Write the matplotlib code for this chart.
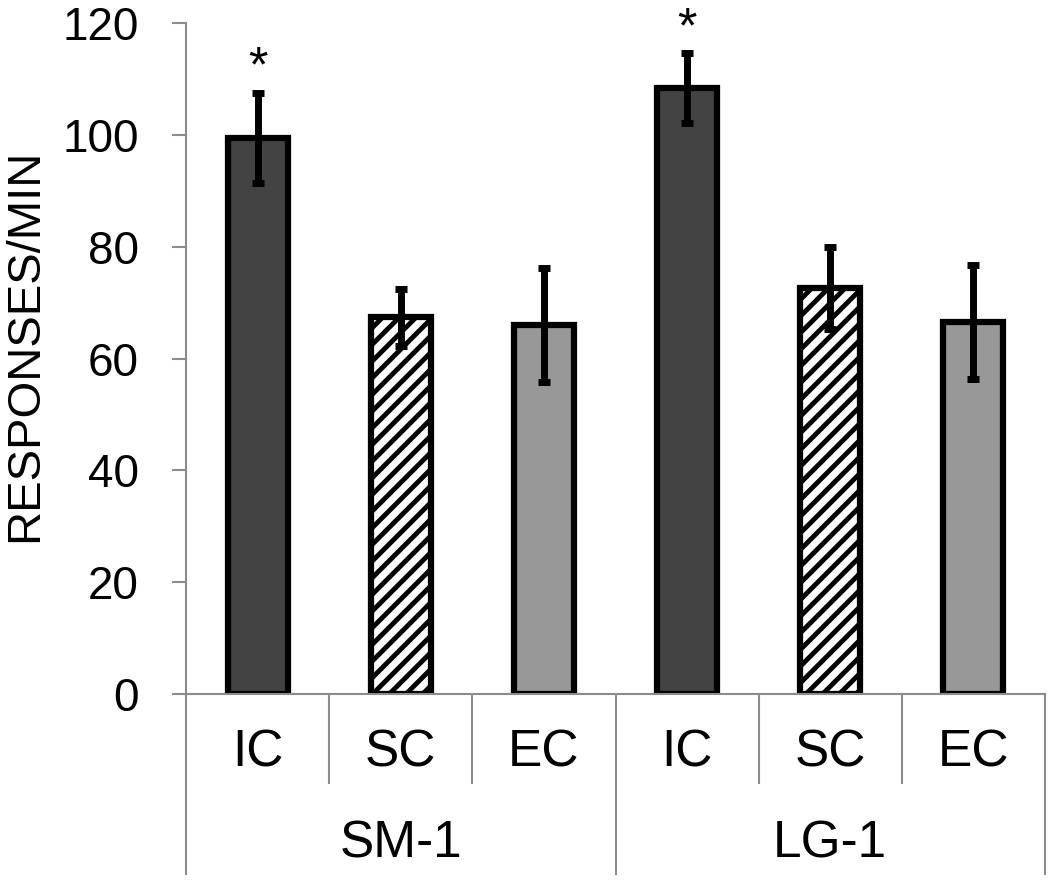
import numpy as np
import matplotlib
matplotlib.use("Agg")
import matplotlib.pyplot as plt

plt.rcParams['font.family'] = ['Liberation Sans', 'DejaVu Sans']
plt.rcParams['hatch.linewidth'] = 3.5
plt.rcParams['hatch.color'] = 'black'

groups = ["SM-1", "LG-1"]
conditions = ["IC", "SC", "EC"]
means = [99.4, 67.4, 66.0, 108.4, 72.6, 66.5]
errors = [8.1, 5.1, 10.2, 6.2, 7.3, 10.2]
significant = [True, False, False, True, False, False]

colors = ['#434343', 'white', '#989898']
hatches = ['', '//', '']

fig = plt.figure(figsize=(10.5, 8.81), dpi=100)
ax = fig.add_axes([186/1050, 1 - 694/881, 859/1050, 671/881])

x = np.arange(len(means))
for i in range(len(means)):
    c = i % 3
    ax.bar(x[i], means[i], 0.42, color=colors[c], hatch=hatches[c],
           edgecolor='black', linewidth=4.5, zorder=2)

ax.errorbar(x, means, yerr=errors, fmt='none', ecolor='black',
            elinewidth=5, capsize=4.5, capthick=5, zorder=3)

for i in range(len(means)):
    if significant[i]:
        ax.text(x[i], means[i] + errors[i] + 2.0, '*', ha='center', va='baseline',
                fontsize=36, clip_on=False)

ax.set_xlim(-0.5, len(means) - 0.5)
ax.set_ylim(0, 120)
ax.set_yticks(np.arange(0, 121, 20))
ax.set_xticks([])
ax.tick_params(axis='y', direction='out', length=10, width=1.5, color='#8c8c8c',
               labelsize=33, pad=24)

for s in ['top', 'right']:
    ax.spines[s].set_visible(False)
for s in ['left', 'bottom']:
    ax.spines[s].set_color('#8c8c8c')
    ax.spines[s].set_linewidth(1.5)

ax.set_ylabel('RESPONSES/MIN', fontsize=34)
ax.yaxis.set_label_coords(-0.162, 0.52)

# category labels and separators under the axis
trans = ax.get_xaxis_transform()
for i in range(len(means)):
    ax.text(x[i], -0.088, conditions[i % 3], transform=trans, ha='center', va='center',
            fontsize=37)
for g in range(len(groups)):
    ax.text(g * 3 + 1, -0.2235, groups[g], transform=trans, ha='center', va='center',
            fontsize=37)

for k in range(len(means) + 1):
    edge = k - 0.5
    if k % 3 == 0:
        bottom = -0.268
    else:
        bottom = -0.1326
    ax.plot([edge, edge], [0, bottom], transform=trans, color='#8c8c8c',
            linewidth=1.5, clip_on=False)

fig.savefig('out.png', dpi=100)
